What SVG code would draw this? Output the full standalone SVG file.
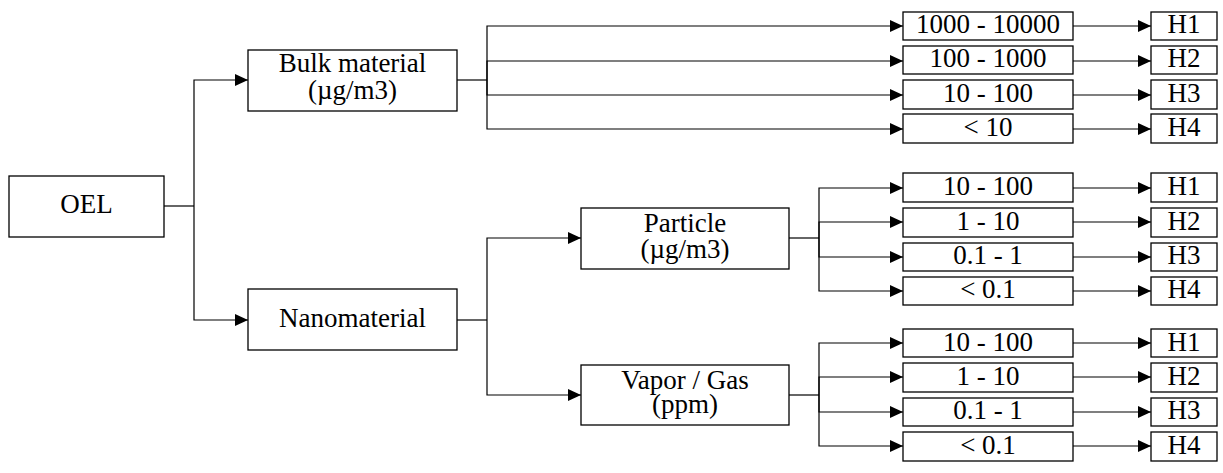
<svg xmlns="http://www.w3.org/2000/svg" width="1223" height="473" viewBox="0 0 1223 473">
<style>
rect{fill:#fff;stroke:#000;stroke-width:1.3}
text{font-family:"Liberation Serif","Times New Roman",serif;font-size:27px;fill:#000;text-anchor:middle}
.c path{fill:none;stroke:#000;stroke-width:1.2}
</style>
<defs>
<marker id="a" markerUnits="userSpaceOnUse" markerWidth="13" markerHeight="12" refX="13" refY="6" orient="auto"><path d="M0,0 L13,6 L0,12 z" fill="#000"/></marker>
</defs>
<g class="c" id="connectors">
<path d="M164,206 H194"/>
<path d="M194,206 V80 H248" marker-end="url(#a)"/>
<path d="M194,206 V320 H248" marker-end="url(#a)"/>
<path d="M457,80 H487"/>
<path d="M487,80 V26 H903" marker-end="url(#a)"/>
<path d="M487,80 V61 H903" marker-end="url(#a)"/>
<path d="M487,80 V95 H903" marker-end="url(#a)"/>
<path d="M487,80 V129 H903" marker-end="url(#a)"/>
<path d="M1073,26 H1151" marker-end="url(#a)"/>
<path d="M1073,61 H1151" marker-end="url(#a)"/>
<path d="M1073,95 H1151" marker-end="url(#a)"/>
<path d="M1073,129 H1151" marker-end="url(#a)"/>
<path d="M457,320 H487"/>
<path d="M487,320 V238 H581" marker-end="url(#a)"/>
<path d="M487,320 V395 H581" marker-end="url(#a)"/>
<path d="M789,238 H819"/>
<path d="M819,238 V188 H903" marker-end="url(#a)"/>
<path d="M819,238 V222 H903" marker-end="url(#a)"/>
<path d="M819,238 V257 H903" marker-end="url(#a)"/>
<path d="M819,238 V291 H903" marker-end="url(#a)"/>
<path d="M789,395 H819"/>
<path d="M819,395 V343 H903" marker-end="url(#a)"/>
<path d="M819,395 V377 H903" marker-end="url(#a)"/>
<path d="M819,395 V412 H903" marker-end="url(#a)"/>
<path d="M819,395 V446 H903" marker-end="url(#a)"/>
<path d="M1073,188 H1151" marker-end="url(#a)"/>
<path d="M1073,222 H1151" marker-end="url(#a)"/>
<path d="M1073,257 H1151" marker-end="url(#a)"/>
<path d="M1073,291 H1151" marker-end="url(#a)"/>
<path d="M1073,343 H1151" marker-end="url(#a)"/>
<path d="M1073,377 H1151" marker-end="url(#a)"/>
<path d="M1073,412 H1151" marker-end="url(#a)"/>
<path d="M1073,446 H1151" marker-end="url(#a)"/>
</g>
<g id="oel"><rect x="9" y="176" width="155" height="61"/><text x="86.5" y="213">OEL</text></g>
<g id="bulk"><rect x="248" y="50" width="209" height="61"/><text x="352.5" y="72">Bulk material</text><text x="352.5" y="98.5">(µg/m3)</text></g>
<g id="nano"><rect x="248" y="289" width="209" height="61"/><text x="352.5" y="327">Nanomaterial</text></g>
<g id="particle"><rect x="581" y="208" width="208" height="61"/><text x="685" y="231.5">Particle</text><text x="685" y="258">(µg/m3)</text></g>
<g id="vapor"><rect x="581" y="365" width="208" height="60"/><text x="685" y="389">Vapor / Gas</text><text x="685" y="413">(ppm)</text></g>
<g id="b1"><rect x="903" y="12" width="170" height="28"/><text x="988" y="33.3">1000 - 10000</text></g>
<g id="b2"><rect x="903" y="46" width="170" height="28"/><text x="988" y="67">100 - 1000</text></g>
<g id="b3"><rect x="903" y="80" width="170" height="29"/><text x="988" y="101.5">10 - 100</text></g>
<g id="b4"><rect x="903" y="114" width="170" height="29"/><text x="988" y="135.5">&lt; 10</text></g>
<g id="bh1"><rect x="1151" y="12" width="66" height="28"/><text x="1184" y="33.3">H1</text></g>
<g id="bh2"><rect x="1151" y="46" width="66" height="28"/><text x="1184" y="67">H2</text></g>
<g id="bh3"><rect x="1151" y="80" width="66" height="29"/><text x="1184" y="101.5">H3</text></g>
<g id="bh4"><rect x="1151" y="114" width="66" height="29"/><text x="1184" y="135.5">H4</text></g>
<g id="p1"><rect x="903" y="173" width="170" height="29"/><text x="988" y="195">10 - 100</text></g>
<g id="p2"><rect x="903" y="208" width="170" height="29"/><text x="988" y="229.5">1 - 10</text></g>
<g id="p3"><rect x="903" y="243" width="170" height="28"/><text x="988" y="264">0.1 - 1</text></g>
<g id="p4"><rect x="903" y="277" width="170" height="28"/><text x="988" y="298">&lt; 0.1</text></g>
<g id="ph1"><rect x="1151" y="173" width="66" height="29"/><text x="1184" y="195">H1</text></g>
<g id="ph2"><rect x="1151" y="208" width="66" height="29"/><text x="1184" y="229.5">H2</text></g>
<g id="ph3"><rect x="1151" y="243" width="66" height="28"/><text x="1184" y="264">H3</text></g>
<g id="ph4"><rect x="1151" y="277" width="66" height="28"/><text x="1184" y="298">H4</text></g>
<g id="v1"><rect x="903" y="329" width="170" height="28"/><text x="988" y="350.5">10 - 100</text></g>
<g id="v2"><rect x="903" y="363" width="170" height="29"/><text x="988" y="384.5">1 - 10</text></g>
<g id="v3"><rect x="903" y="398" width="170" height="28"/><text x="988" y="419">0.1 - 1</text></g>
<g id="v4"><rect x="903" y="432" width="170" height="29"/><text x="988" y="453.5">&lt; 0.1</text></g>
<g id="vh1"><rect x="1151" y="329" width="66" height="28"/><text x="1184" y="350.5">H1</text></g>
<g id="vh2"><rect x="1151" y="363" width="66" height="29"/><text x="1184" y="384.5">H2</text></g>
<g id="vh3"><rect x="1151" y="398" width="66" height="28"/><text x="1184" y="419">H3</text></g>
<g id="vh4"><rect x="1151" y="432" width="66" height="29"/><text x="1184" y="453.5">H4</text></g>
</svg>
